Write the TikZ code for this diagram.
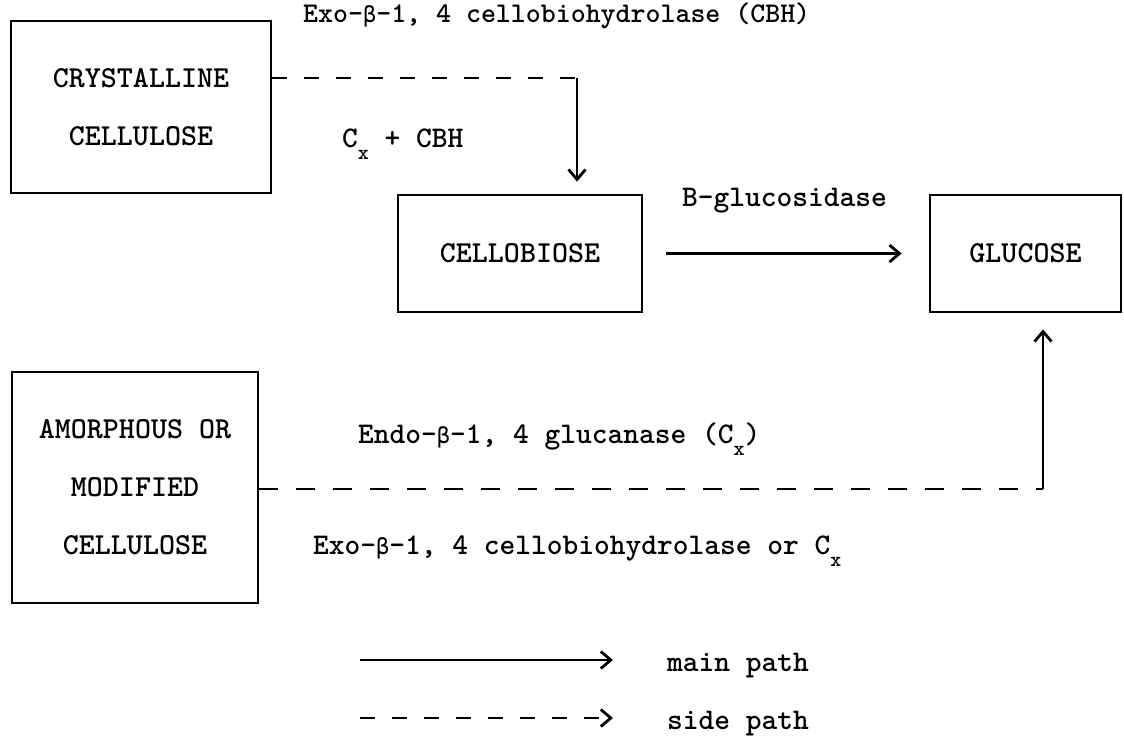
\documentclass[tikz,border=0pt]{standalone}
\usepackage{fontspec}
\usepackage{tikz}
\usetikzlibrary{arrows.meta}
\newfontfamily\grkfont{DejaVu Sans Mono}
\newcommand\betasym{{\grkfont\mdseries\fontsize{22}{22}\selectfont β}}
\newcommand\subx{\raisebox{-12pt}{\fontsize{21}{21}\selectfont x}}

\begin{document}
\begin{tikzpicture}[x=1pt,y=-1pt,
  box/.style={draw,line width=2.8pt,inner sep=0pt,align=center,
    font=\fontsize{30.5}{58}\selectfont\ttfamily\bfseries},
  lbl/.style={anchor=base west,inner sep=0pt,
    font=\fontsize{30}{34}\selectfont\ttfamily\bfseries},
  mainpath/.style={line width=2.8pt,-{Straight Barb[length=10pt,width=17pt]}},
  sidepath/.style={line width=2.8pt,dash pattern=on 15pt off 17pt}]
  \useasboundingbox (0,0) rectangle (1124,736);
  \node[box,minimum width=260pt,minimum height=172pt] (crys) at (141,107) {CRYSTALLINE\\CELLULOSE};
  \node[box,minimum width=244pt,minimum height=117pt] (cello) at (520,253.5) {CELLOBIOSE};
  \node[box,minimum width=191pt,minimum height=117pt] (gluc) at (1025.5,253.5) {GLUCOSE};
  \node[box,minimum width=246pt,minimum height=231pt] (amor) at (135,487.5) {AMORPHOUS OR\\MODIFIED\\CELLULOSE};

  \coordinate (turn1) at (577,78);
  \draw[sidepath] (crys.east |- turn1) -- (turn1);
  \draw[mainpath] (turn1) -- ([yshift=12pt]cello.north -| turn1);
  \draw[mainpath] ([xshift=23pt]cello.east) -- ([xshift=-27pt]gluc.west);
  \coordinate (turn2) at (1043,489);
  \draw[sidepath,dash pattern=on 19pt off 18pt] (amor.east |- turn2) -- (turn2);
  \draw[mainpath] (turn2) -- ([yshift=-16pt]gluc.south -| turn2);

  \node[lbl,font=\fontsize{28.5}{34}\selectfont\ttfamily\bfseries] (exotop) at (303,23) {Exo-\betasym-1, 4 cellobiohydrolase (CBH)};
  \node[lbl] (cxcbh) at (342,147) {C\subx\ + CBH};
  \node[lbl] (bgluc) at (682,206) {B-glucosidase};
  \node[lbl] (endo) at (358,443) {Endo-\betasym-1, 4 glucanase (C\subx)};
  \node[lbl] (exolow) at (313,554) {Exo-\betasym-1, 4 cellobiohydrolase or C\subx};

  \coordinate (keymainA) at (360,660);
  \coordinate (keymainB) at (613,660);
  \coordinate (keysideA) at (360,718);
  \coordinate (keysideB) at (613,718);
  \draw[mainpath] (keymainA) -- (keymainB);
  \draw[mainpath,sidepath] (keysideA) -- (keysideB);
  \node[lbl] (keymain) at (667,671) {main path};
  \node[lbl] (keyside) at (667,729) {side path};
\end{tikzpicture}
\end{document}
